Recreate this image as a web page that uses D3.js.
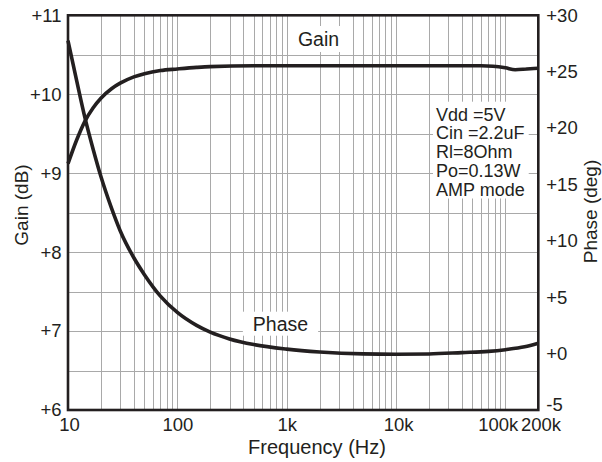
<!DOCTYPE html>
<html>
<head>
<meta charset="utf-8">
<script src="https://cdn.jsdelivr.net/npm/d3@7"></script>
<style>
    body { margin: 0; background: #fff; }
    svg { display: block; font-family: "Liberation Sans", Arial, sans-serif; }
    .grid line { stroke: #a9a9a9; stroke-width: 1; shape-rendering: crispEdges; }
    .grid path { display: none; }
    .frame { fill: none; stroke: #231f20; stroke-width: 2.6; }
    .curve { fill: none; stroke: #231f20; stroke-width: 3.6; stroke-linejoin: round; }
    .tick text, .label { fill: #231f20; }
</style>
</head>
<body>
<script>
(function(){

    //frequency response data
    var gainFreq = [10, 12, 14.3, 17, 20, 25, 30, 40, 50, 70, 100, 150, 200, 500, 1000, 5000, 20000, 60000, 77000, 100000, 123000, 157000, 200000];
    var gainValues = [9.12, 9.42, 9.66, 9.83, 9.95, 10.07, 10.14, 10.22, 10.26, 10.30, 10.32, 10.34, 10.35, 10.36, 10.36, 10.36, 10.36, 10.36, 10.355, 10.335, 10.31, 10.32, 10.33];

    var phaseFreq = [10, 12, 14.3, 17, 20, 25, 30, 40, 50, 70, 100, 150, 200, 300, 500, 1000, 2000, 5000, 10000, 20000, 40000, 70000, 100000, 150000, 200000];
    var phaseValues = [27.75, 24.2, 20.9, 18.1, 15.7, 12.9, 10.9, 8.5, 7.0, 5.1, 3.65, 2.5, 1.9, 1.3, 0.8, 0.4, 0.15, -0.02, -0.05, -0.03, 0.09, 0.2, 0.35, 0.6, 0.92];

    //tick values and labels
    var freqTicks = [10, 100, 1000, 10000, 100000, 200000];
    var freqLabels = ["10", "100", "1k", "10k", "100k", "200k"];
    var gainTicks = [6, 7, 8, 9, 10, 11];
    var gainLabels = ["+6", "+7", "+8", "+9", "+10", "+11"];
    var phaseTicks = [-5, 0, 5, 10, 15, 20, 25, 30];
    var phaseLabels = ["-5", "+0", "+5", "+10", "+15", "+20", "+25", "+30"];
    var notes = ["Vdd =5V", "Cin =2.2uF", "Rl=8Ohm", "Po=0.13W", "AMP mode"];

    window.onload = drawChart();

    function drawChart(){

        var width = 602,
            height = 462,
            left = 68,
            right = 538.3,
            top = 15.3,
            bottom = 410,
            innerW = right - left,
            innerH = bottom - top;

        var svg = d3.select("body")
            .append("svg")
            .attr("width", width)
            .attr("height", height);

        //scales
        var x = d3.scaleLog()
            .domain([10, 200000])
            .range([left, right]);

        var yGain = d3.scaleLinear()
            .domain([6, 11])
            .range([bottom, top]);

        var yPhase = d3.scaleLinear()
            .domain([-5, 30])
            .range([bottom, top]);

        //horizontal grid, every half dB
        svg.append("g")
            .attr("class", "grid")
            .attr("transform", "translate(" + left + ",0)")
            .call(d3.axisLeft(yGain)
                .tickValues(d3.range(6.5, 11, 0.5))
                .tickSize(-innerW)
                .tickFormat(""));

        //vertical grid, 1..9 per decade
        svg.append("g")
            .attr("class", "grid")
            .attr("transform", "translate(0," + bottom + ")")
            .call(d3.axisBottom(x)
                .tickValues(x.ticks().filter(function(d){ return d > 10 && d < 200000; }))
                .tickSize(-innerH)
                .tickFormat(""));

        //line generators
        var gainLine = d3.line()
            .x(function(d, i){ return x(gainFreq[i]); })
            .y(function(d){ return yGain(d); })
            .curve(d3.curveMonotoneX);

        var phaseLine = d3.line()
            .x(function(d, i){ return x(phaseFreq[i]); })
            .y(function(d){ return yPhase(d); })
            .curve(d3.curveMonotoneX);

        svg.append("path")
            .datum(gainValues)
            .attr("class", "curve")
            .attr("d", gainLine);

        svg.append("path")
            .datum(phaseValues)
            .attr("class", "curve")
            .attr("d", phaseLine);

        //curve labels with white boxes behind them
        addLabel(svg, "Gain", 318.5, 46, 19.5, 4, 2);
        addLabel(svg, "Phase", 280.5, 330.7, 19.5, 10, 1);

        //conditions note
        var noteBox = svg.append("rect")
            .attr("fill", "#fff");
        var note = svg.append("text")
            .attr("class", "label")
            .attr("x", 436)
            .attr("y", 120.7)
            .style("font-size", "18px");
        note.selectAll("tspan")
            .data(notes)
            .enter()
            .append("tspan")
            .attr("x", 436)
            .attr("dy", function(d, i){ return i == 0 ? 0 : 18.7; })
            .text(function(d){ return d; });
        var nb = note.node().getBBox();
        noteBox.attr("x", nb.x - 3)
            .attr("y", nb.y - 3)
            .attr("width", nb.width + 7)
            .attr("height", nb.height + 2);

        //plot frame
        svg.append("rect")
            .attr("class", "frame")
            .attr("x", left)
            .attr("y", top)
            .attr("width", innerW)
            .attr("height", innerH);

        //left axis (gain)
        var gainAxis = svg.append("g")
            .attr("transform", "translate(" + (left - 6.5) + ",0)")
            .call(d3.axisLeft(yGain)
                .tickValues(gainTicks)
                .tickSize(0)
                .tickPadding(0)
                .tickFormat(function(d, i){ return gainLabels[i]; }));
        gainAxis.select(".domain").remove();
        gainAxis.selectAll("text")
            .style("font-size", "18.5px")
            .attr("font-family", null);

        //right axis (phase); lowest label sits a little above its line
        var phaseShift = [-5, 0, 0, 0, 0, 0, 0, 0];
        var phaseAxis = svg.append("g")
            .attr("transform", "translate(" + (right + 8) + ",0)")
            .call(d3.axisRight(yPhase)
                .tickValues(phaseTicks)
                .tickSize(0)
                .tickPadding(0)
                .tickFormat(function(d, i){ return phaseLabels[i]; }));
        phaseAxis.select(".domain").remove();
        phaseAxis.selectAll("text")
            .style("font-size", "18.5px")
            .attr("font-family", null)
            .attr("y", function(d, i){ return phaseShift[i]; });

        //bottom axis (frequency)
        var labelShift = [1, 0, 0, 2, -7.7, 2.2];
        var freqAxis = svg.append("g")
            .attr("transform", "translate(0," + (bottom + 8) + ")")
            .call(d3.axisBottom(x)
                .tickValues(freqTicks)
                .tickSize(0)
                .tickPadding(0)
                .tickFormat(function(d, i){ return freqLabels[i]; }));
        freqAxis.select(".domain").remove();
        freqAxis.selectAll("text")
            .style("font-size", "18.5px")
            .attr("font-family", null)
            .attr("dx", function(d, i){ return labelShift[i]; });

        //axis titles
        svg.append("text")
            .attr("class", "label")
            .attr("x", 317)
            .attr("y", 454)
            .attr("text-anchor", "middle")
            .style("font-size", "20px")
            .text("Frequency (Hz)");

        svg.append("text")
            .attr("class", "label")
            .attr("transform", "translate(28,205) rotate(-90)")
            .attr("text-anchor", "middle")
            .style("font-size", "19px")
            .text("Gain (dB)");

        svg.append("text")
            .attr("class", "label")
            .attr("transform", "translate(597,211.5) rotate(-90)")
            .attr("text-anchor", "middle")
            .style("font-size", "19px")
            .text("Phase (deg)");
    };

    //label centred on (cx, baseline) with a white box
    function addLabel(svg, txt, cx, by, size, padX, padY){
        var box = svg.append("rect").attr("fill", "#fff");
        var t = svg.append("text")
            .attr("class", "label")
            .attr("x", cx)
            .attr("y", by)
            .attr("text-anchor", "middle")
            .style("font-size", size + "px")
            .text(txt);
        var b = t.node().getBBox();
        box.attr("x", b.x - padX)
            .attr("y", b.y - padY)
            .attr("width", b.width + padX * 2)
            .attr("height", b.height + padY * 2);
    };
})();
</script>
</body>
</html>
